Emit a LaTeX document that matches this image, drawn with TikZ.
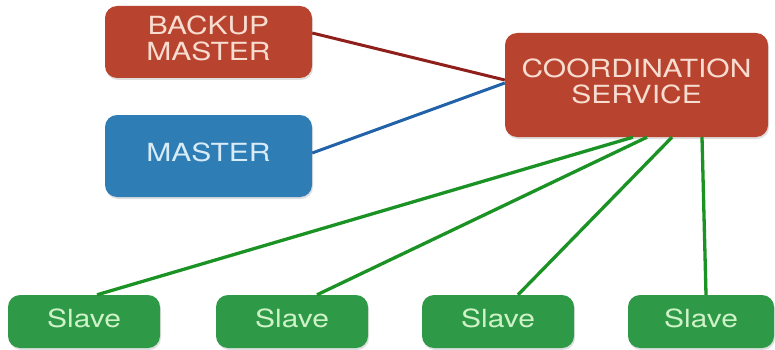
\documentclass[tikz,border=0pt]{standalone}
\usepackage{fontspec}
\setmainfont{TeX Gyre Heros}
\usetikzlibrary{shadows}
\definecolor{boxred}{HTML}{B8432F}
\definecolor{boxblue}{HTML}{2E7DB5}
\definecolor{boxgreen}{HTML}{2E9946}
\definecolor{txtred}{HTML}{F7DCD0}
\definecolor{txtblue}{HTML}{D8ECF7}
\definecolor{txtgreen}{HTML}{CFF2C8}
\definecolor{linered}{HTML}{8E1F1A}
\definecolor{lineblue}{HTML}{2262A8}
\definecolor{linegreen}{HTML}{1A9224}
\newcommand{\widetext}[1]{\scalebox{1.2}[1]{\begin{tabular}{@{}c@{}}#1\end{tabular}}}
\tikzset{
  box/.style={rounded corners=12pt, inner sep=0pt, font=\fontsize{25}{25}\selectfont,
    drop shadow={opacity=0.25, shadow xshift=1pt, shadow yshift=-2pt}},
  redbox/.style={box, fill=boxred, text=txtred},
  bluebox/.style={box, fill=boxblue, text=txtblue},
  slavebox/.style={box, fill=boxgreen, text=txtgreen, minimum width=152pt, minimum height=53pt},
  redline/.style={draw=linered, line width=3pt},
  blueline/.style={draw=lineblue, line width=3pt},
  greenline/.style={draw=linegreen, line width=3.3pt},
}
\begin{document}
\begin{tikzpicture}[x=1pt,y=-1pt]
\useasboundingbox (0,0) rectangle (775,350);
\node[redbox, minimum width=207pt, minimum height=72pt] (backup) at (208.5,42) {\widetext{BACKUP\\MASTER}};
\node[bluebox, minimum width=207pt, minimum height=82pt] (master) at (208.5,156) {\widetext{MASTER}};
\node[redbox, minimum width=263pt, minimum height=104pt] (coord) at (636.5,85) {\widetext{COORDINATION\\SERVICE}};
\node[slavebox] (s1) at (84,321.5) {\widetext{Slave}};
\node[slavebox] (s2) at (292,321.5) {\widetext{Slave}};
\node[slavebox] (s3) at (498,321.5) {\widetext{Slave}};
\node[slavebox, minimum width=146pt] (s4) at (701,321.5) {\widetext{Slave}};
\draw[redline] ([yshift=9pt]backup.east) -- ([yshift=5pt]coord.west);
\draw[blueline] ([yshift=3pt]master.east) -- ([yshift=2pt]coord.west);
\draw[greenline] ([xshift=-3.5pt]coord.south) -- ([xshift=13pt]s1.north);
\draw[greenline] ([xshift=10.5pt]coord.south) -- ([xshift=25pt]s2.north);
\draw[greenline] ([xshift=35.5pt]coord.south) -- ([xshift=20pt]s3.north);
\draw[greenline] ([xshift=65.5pt]coord.south) -- ([xshift=5pt]s4.north);
\end{tikzpicture}
\end{document}
